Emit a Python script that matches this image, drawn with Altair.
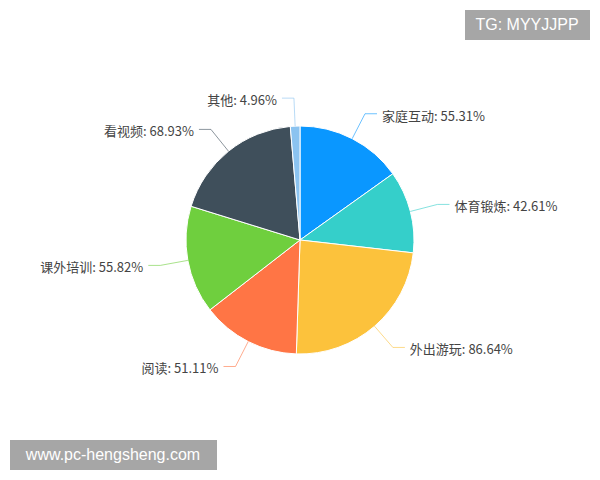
import altair as alt
import pandas as pd

categories = ["家庭互动", "体育锻炼", "外出游玩", "阅读", "课外培训", "看视频", "其他"]
values = [55.31, 42.61, 86.64, 51.11, 55.82, 68.93, 4.96]
colors = ["#0A97FF", "#35CFCA", "#FCC23C", "#FF7545", "#6FCF3E", "#3F4F5B", "#8BC3F0"]

W, H = 584, 464
CX, CY = 292, 232
R = 114
R2 = 142
L2 = 12
GAP = 5

df = pd.DataFrame({"cat": categories, "val": values, "idx": list(range(len(values)))})

color_scale = alt.Scale(domain=categories, range=colors)
xs = alt.Scale(domain=[0, W], nice=False, zero=False)
ys = alt.Scale(domain=[0, H], nice=False, zero=False, reverse=True)

pie = alt.Chart(df).mark_arc(stroke="white", strokeWidth=1, radius=R).encode(
    theta=alt.Theta("val:Q", stack=True),
    color=alt.Color("cat:N", scale=color_scale, legend=None),
    order=alt.Order("idx:Q"),
)

base = (
    alt.Chart(df)
    .transform_joinaggregate(total="sum(val)")
    .transform_window(cum="sum(val)", sort=[alt.SortField("idx")], frame=[None, 0])
    .transform_calculate(mid="(datum.cum - datum.val/2) / datum.total * 2 * PI")
    .transform_calculate(
        s="sin(datum.mid)",
        c="cos(datum.mid)",
    )
    .transform_calculate(
        side="datum.s >= 0 ? 1 : -1",
        x0=f"{CX} + {R} * datum.s",
        y0=f"{CY} - {R} * datum.c",
        x1=f"{CX} + {R2} * datum.s",
        y1=f"{CY} - {R2} * datum.c",
    )
    .transform_calculate(
        x2=f"datum.x1 + {L2} * datum.side",
        tx=f"datum.x1 + {L2 + GAP} * datum.side",
        ty="datum.y1 + 3",
        label="datum.cat + ': ' + format(datum.val, '.2f') + '%'",
    )
)

rule1 = base.mark_rule(strokeWidth=1, opacity=0.6).encode(
    x=alt.X("x0:Q", scale=xs, axis=None),
    y=alt.Y("y0:Q", scale=ys, axis=None),
    x2="x1:Q",
    y2="y1:Q",
    color=alt.Color("cat:N", scale=color_scale, legend=None),
)
rule2 = base.mark_rule(strokeWidth=1, opacity=0.6).encode(
    x=alt.X("x1:Q", scale=xs, axis=None),
    y=alt.Y("y1:Q", scale=ys, axis=None),
    x2="x2:Q",
    color=alt.Color("cat:N", scale=color_scale, legend=None),
)

text_kw = dict(font="Noto Sans CJK SC", fontSize=13, color="#444444", baseline="middle")
text_right = base.transform_filter("datum.side > 0").mark_text(align="left", **text_kw).encode(
    x=alt.X("tx:Q", scale=xs, axis=None),
    y=alt.Y("ty:Q", scale=ys, axis=None),
    text="label:N",
)
text_left = base.transform_filter("datum.side < 0").mark_text(align="right", **text_kw).encode(
    x=alt.X("tx:Q", scale=xs, axis=None),
    y=alt.Y("ty:Q", scale=ys, axis=None),
    text="label:N",
)

wm_df = pd.DataFrame({"k": [0]})
wm1_box = alt.Chart(wm_df).mark_rect(color="#A6A6A6").encode(
    x=alt.value(457), x2=alt.value(582), y=alt.value(2), y2=alt.value(32)
)
wm1_txt = alt.Chart(wm_df).mark_text(
    text="TG: MYYJJPP", color="white", font="Liberation Sans", fontSize=16, align="center", baseline="middle"
).encode(x=alt.value(519), y=alt.value(17))
wm2_box = alt.Chart(wm_df).mark_rect(color="#A6A6A6").encode(
    x=alt.value(2), x2=alt.value(209), y=alt.value(432), y2=alt.value(462)
)
wm2_txt = alt.Chart(wm_df).mark_text(
    text="www.pc-hengsheng.com", color="white", font="Liberation Sans", fontSize=16, align="center", baseline="middle"
).encode(x=alt.value(105), y=alt.value(447))

chart = (
    alt.layer(pie, rule1, rule2, text_right, text_left, wm1_box, wm1_txt, wm2_box, wm2_txt)
    .properties(width=W, height=H, autosize=alt.AutoSizeParams(type="none"), padding=0, background="white")
    .configure_view(stroke=None)
)

chart.save("out.html", embed_options={"renderer": "svg", "actions": False})
